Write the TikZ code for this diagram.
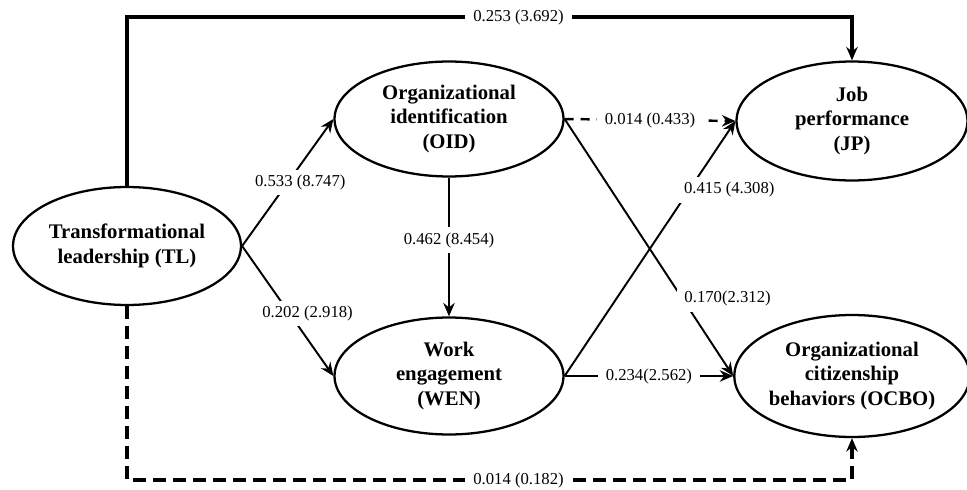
\documentclass[tikz,border=0pt]{standalone}
\usepackage{fontspec}
\setmainfont{Liberation Serif}
\usetikzlibrary{arrows.meta,positioning,shapes.geometric,calc}
\tikzset{
  semvar/.style={draw,ellipse,line width=1.3pt,inner sep=0pt,align=center,font=\bfseries\fontsize{11.8}{13.8}\selectfont,minimum width=4.58cm,minimum height=2.34cm},
  semflow/.style={-{Stealth[length=2.7mm,width=2.3mm,inset=0.9mm]},line width=1.1pt},
  semns/.style={semflow,line width=1.4pt,dash pattern=on 1.8mm off 1.4mm},
  semrail/.style={semflow,line width=1.8pt},
  semlabel/.style={font=\fontsize{9.5}{11}\selectfont,fill=white,inner ysep=3pt,inner xsep=4.5pt},
}
\begin{document}
\begin{tikzpicture}[x=0.02cm,y=-0.02cm]
\useasboundingbox (0,0) rectangle (967,490);
\node[semvar,minimum width=4.56cm,minimum height=2.36cm] (tl) at (127,246) {Transformational\\leadership (TL)};
\node[semvar,minimum height=2.30cm] (oid) at (449,119) {Organizational\\identification\\(OID)};
\node[semvar] (wen) at (449,376) {Work\\engagement\\(WEN)};
\node[semvar,minimum width=4.62cm,minimum height=2.38cm] (jp) at (852,121) {Job\\performance\\(JP)};
\node[semvar,minimum width=4.64cm,minimum height=2.44cm] (ocbo) at (852,376) {Organizational\\citizenship\\behaviors (OCBO)};
\coordinate (toprail) at (0,17);
\coordinate (botrail) at (0,480);
% direct paths
\draw[semrail] (tl.north) |- node[semlabel,pos=0.77]{0.253 (3.692)} (toprail -| jp.north) -- (jp.north);
\draw[semrail,dash pattern=on 2.6mm off 1.4mm] (tl.south) |- node[semlabel,pos=0.77]{0.014 (0.182)} (botrail -| ocbo.south) -- (ocbo.south);
% mediated paths
\draw[semflow] (tl.east) -- node[semlabel,pos=0.5,xshift=0.25cm]{0.533 (8.747)} (oid.west);
\draw[semflow] (tl.east) -- node[semlabel,pos=0.52,xshift=0.36cm]{0.202 (2.918)} (wen.west);
\draw[semflow] (oid.south) -- node[semlabel,pos=0.45]{0.462 (8.454)} (wen.north);
\draw[semns] (oid.east) -- node[semlabel,pos=0.5]{0.014 (0.433)} (jp.west);
\draw[semflow] (oid.east) -- node[semlabel,pos=0.7,xshift=0.9cm]{0.170(2.312)} (ocbo.west);
\draw[semflow] (wen.east) -- node[semlabel,pos=0.73,xshift=0.8cm]{0.415 (4.308)} (jp.west);
\draw[semflow] (wen.east) -- node[semlabel,pos=0.5]{0.234(2.562)} (ocbo.west);
\end{tikzpicture}
\end{document}
